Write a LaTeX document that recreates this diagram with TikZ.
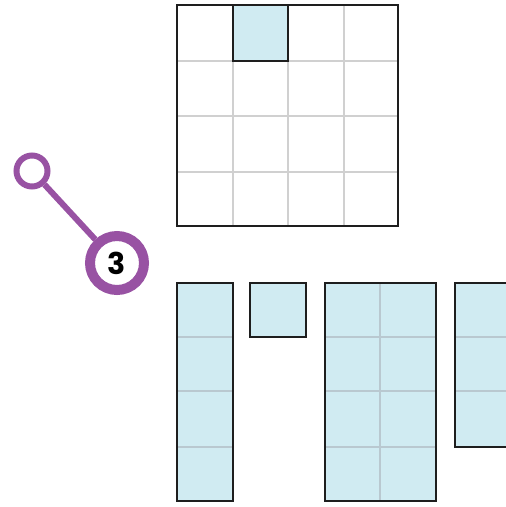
\documentclass[tikz,border=0pt]{standalone}
\usepackage{fontspec}
\newfontfamily\numfont{Poppins}[UprightFont=* Bold]
\definecolor{purp}{RGB}{152,82,163}
\definecolor{lblue}{RGB}{208,235,242}
\definecolor{gridg}{RGB}{208,208,208}
\definecolor{blueg}{RGB}{185,200,208}
\definecolor{outl}{RGB}{30,30,30}
\begin{document}
\begin{tikzpicture}[x=1pt,y=-1pt,
  outer/.style={draw=outl,line width=2.2pt},
  gline/.style={draw=gridg,line width=1.5pt},
  bline/.style={draw=blueg,line width=1.2pt},
  fillb/.style={fill=lblue}]
\useasboundingbox (0,0) rectangle (506,507);
% top grid
\foreach \x in {233,288,344} \draw[gline] (\x,5) -- (\x,226);
\foreach \y in {61,116,172} \draw[gline] (177,\y) -- (398,\y);
\filldraw[fillb,outer] (233,5) rectangle (288,61);
\draw[outer] (177,5) rectangle (398,226);
% bottom left strip
\fill[fillb] (177,283) rectangle (233,501);
\foreach \y in {337,391,447} \draw[bline] (177,\y) -- (233,\y);
\draw[outer] (177,283) rectangle (233,501);
% small square
\filldraw[fillb,outer] (250,283) rectangle (306,337);
% middle 2x4
\fill[fillb] (325,283) rectangle (436,501);
\draw[bline] (380,283) -- (380,501);
\foreach \y in {337,391,447} \draw[bline] (325,\y) -- (436,\y);
\draw[outer] (325,283) rectangle (436,501);
% right partial
\fill[fillb] (455,283) rectangle (510,447);
\foreach \y in {337,391} \draw[bline] (455,\y) -- (510,\y);
\draw[outer] (510,283) -- (455,283) -- (455,447) -- (510,447);
% callout
\node[circle,draw=purp,line width=6pt,fill=white,minimum size=31pt,inner sep=0pt] (s) at (32,171) {};
\node[circle,draw=purp,line width=10pt,fill=white,minimum size=54pt,inner sep=0pt,font=\numfont\fontsize{30}{30}\selectfont] (b) at (117,263) {3};
\draw[purp,line width=6pt] (s) -- (b);
\end{tikzpicture}
\end{document}
